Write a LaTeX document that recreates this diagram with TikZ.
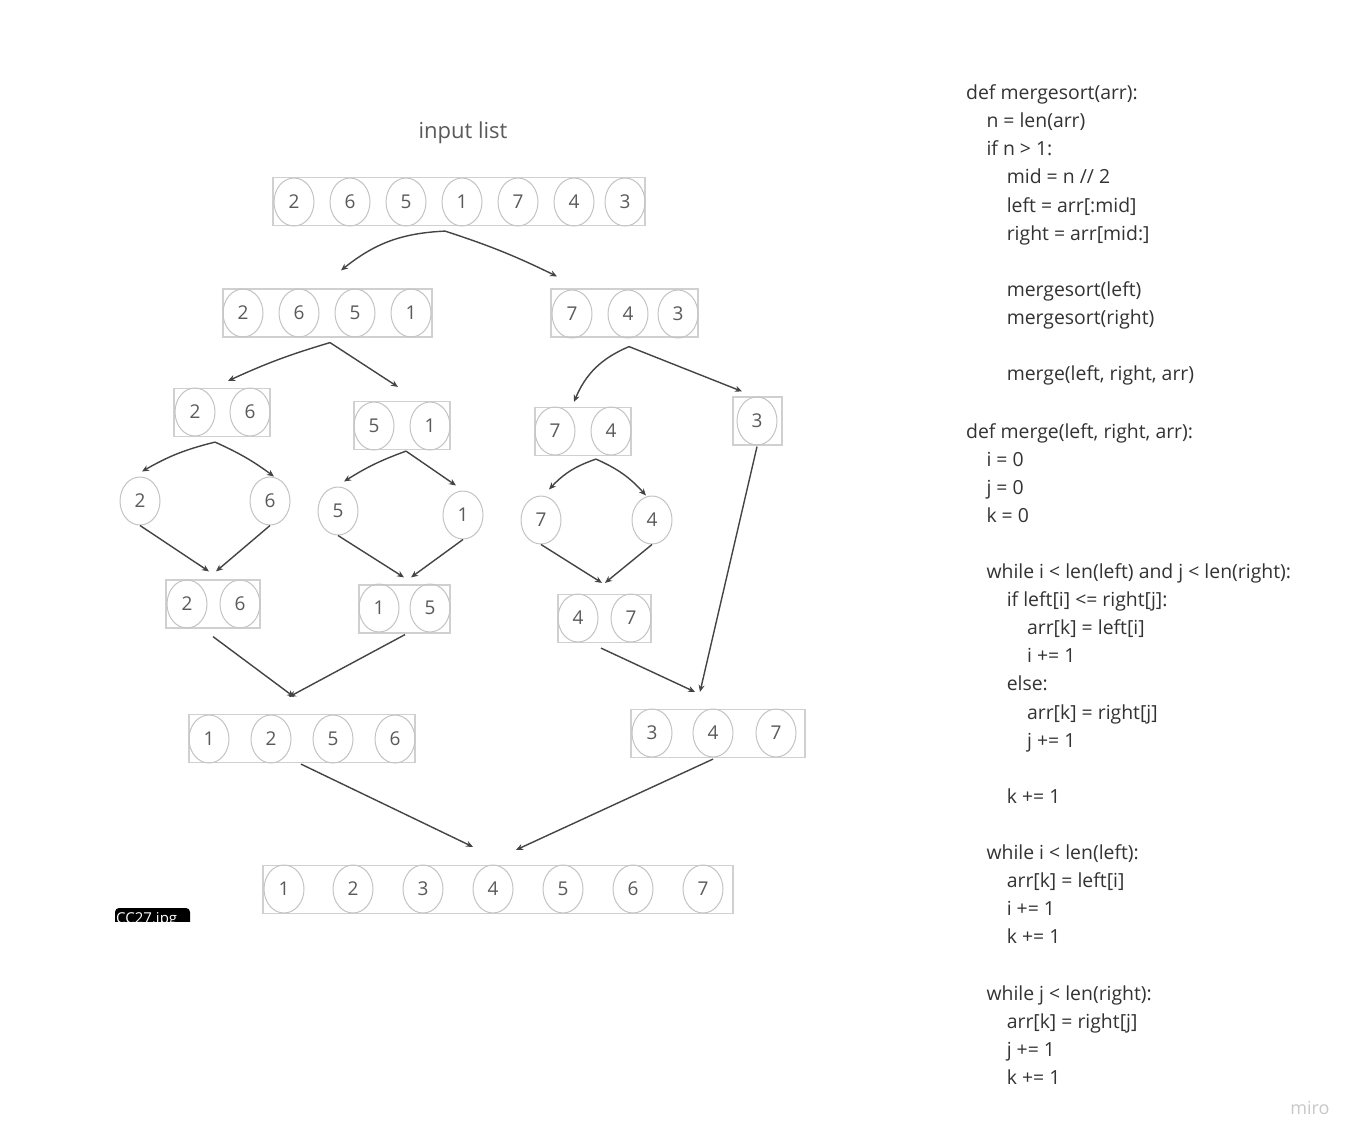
\documentclass[tikz,border=0pt]{standalone}
\usepackage{fontspec}
\setmainfont{Open Sans}
\usetikzlibrary{arrows.meta,shapes.geometric}

\definecolor{boxline}{HTML}{D0D0D0}
\definecolor{cellline}{HTML}{C4C4C4}
\definecolor{arrowline}{HTML}{444444}
\definecolor{numtext}{HTML}{5A5A5A}
\definecolor{codetext}{HTML}{333333}
\definecolor{brandgray}{HTML}{C8C8C8}

\tikzset{
  listbox/.style={draw=boxline, line width=1.2pt, minimum width=#1, minimum height=48pt, inner sep=0pt},
  cell/.style={ellipse, draw=cellline, line width=1pt, minimum width=40pt, minimum height=48pt, inner sep=0pt, text=numtext, font=\fontsize{19}{19}\selectfont},
  arr/.style={draw=arrowline, line width=1.4pt, -{Stealth[length=7pt,width=6pt]}},
  codeline/.style={anchor=base west, inner sep=0pt, text=codetext, font=\fontsize{19.4}{22}\selectfont},
}

\begin{document}
\begin{tikzpicture}[x=1pt,y=-1pt]
	\useasboundingbox (0,0) rectangle (1363,1146);
	\fill[white] (0,0) rectangle (1363,1146);
	
	% title
	\node[text=numtext, font=\fontsize{22}{22}\selectfont] (title) at (463,133) {input list};
	
	% level 0
	\node[listbox=372pt] (L0) at (459,201.5) {};
	\foreach \cx/\v [count=\i] in {294/2,350/6,406/5,462/1,518/7,574/4,625/3}
		\node[cell] (L0-\i) at (\cx,202) {\v};
	
	% level 1
	\node[listbox=209pt] (L1a) at (327.5,313) {};
	\foreach \cx/\v [count=\i] in {243/2,299/6,355/5,411/1}
		\node[cell] (L1a-\i) at (\cx,313) {\v};
	\node[listbox=147pt] (L1b) at (624.5,313) {};
	\foreach \cx/\v [count=\i] in {572/7,628/4,678/3}
		\node[cell] (L1b-\i) at (\cx,314) {\v};
	
	% level 2
	\node[listbox=96pt] (L2a) at (222,412.5) {};
	\foreach \cx/\v [count=\i] in {195/2,250/6}
		\node[cell] (L2a-\i) at (\cx,412) {\v};
	\node[listbox=96pt] (L2b) at (402,425.5) {};
	\foreach \cx/\v [count=\i] in {374/5,430/1}
		\node[cell] (L2b-\i) at (\cx,426) {\v};
	\node[listbox=96pt] (L2c) at (583,431.5) {};
	\foreach \cx/\v [count=\i] in {555/7,611/4}
		\node[cell] (L2c-\i) at (\cx,431) {\v};
	\node[listbox=49pt] (L2d) at (757.5,421) {};
	\node[cell] (L2d-1) at (757,421) {3};
	
	% level 3, single values
	\node[cell] (S2) at (140,501) {2};
	\node[cell] (S6) at (270,501) {6};
	\node[cell] (S5) at (338,511) {5};
	\node[cell] (S1) at (463,515) {1};
	\node[cell] (S7) at (541,520) {7};
	\node[cell] (S4) at (652,520) {4};
	
	% level 4
	\node[listbox=94pt] (L4a) at (213,604) {};
	\foreach \cx/\v [count=\i] in {187/2,240/6}
		\node[cell] (L4a-\i) at (\cx,604) {\v};
	\node[listbox=91pt] (L4b) at (404.5,609) {};
	\foreach \cx/\v [count=\i] in {379/1,430/5}
		\node[cell] (L4b-\i) at (\cx,608) {\v};
	\node[listbox=93pt] (L4c) at (604.5,618.5) {};
	\foreach \cx/\v [count=\i] in {578/4,631/7}
		\node[cell] (L4c-\i) at (\cx,618) {\v};
	
	% level 5
	\node[listbox=226pt] (L5a) at (302,738.5) {};
	\foreach \cx/\v [count=\i] in {209/1,271/2,333/5,395/6}
		\node[cell] (L5a-\i) at (\cx,739) {\v};
	\node[listbox=174pt] (L5b) at (718,733.5) {};
	\foreach \cx/\v [count=\i] in {652/3,713/4,776/7}
		\node[cell] (L5b-\i) at (\cx,733) {\v};
	
	% result
	\node[listbox=470pt] (L6) at (498,889.5) {};
	\foreach \cx/\v [count=\i] in {284/1,353/2,423/3,493/4,563/5,633/6,703/7}
		\node[cell] (L6-\i) at (\cx,889) {\v};
	
	% split arrows
	\draw[arr] ([shift={(-14,5)}]L0.south) to[bend right=18] ([shift={(13.5,-18)}]L1a.north);
	\draw[arr] ([shift={(-14,5)}]L0.south) to[bend left=4] ([shift={(-67.5,-12)}]L1b.north);
	\draw[arr] ([shift={(2.5,5)}]L1a.south) to[bend right=4] ([shift={(6,-7)}]L2a.north);
	\draw[arr] ([shift={(2.5,5)}]L1a.south) -- ([shift={(-4,-14)}]L2b.north);
	\draw[arr] ([shift={(4.5,9)}]L1b.south) to[bend right=22] ([shift={(-9,-5)}]L2c.north);
	\draw[arr] ([shift={(4.5,9)}]L1b.south) -- ([shift={(-15.5,-5)}]L2d.north);
	\draw[arr] ([shift={(-7,5)}]L2a.south) to[bend right=8] ([shift={(2,-5)}]S2.north);
	\draw[arr] ([shift={(-7,5)}]L2a.south) to[bend left=6] ([shift={(4,0)}]S6.north);
	\draw[arr] ([shift={(4,1)}]L2b.south) to[bend right=6] ([shift={(6,-5)}]S5.north);
	\draw[arr] ([shift={(4,1)}]L2b.south) -- ([shift={(-7,-5)}]S1.north);
	\draw[arr] ([shift={(13,3)}]L2c.south) to[bend right=14] ([shift={(8,-6)}]S7.north);
	\draw[arr] ([shift={(13,3)}]L2c.south) to[bend left=12] ([shift={(-6,0)}]S4.north);
	
	% merge arrows
	\draw[arr] (S2.south) -- ([shift={(-4,-8)}]L4a.north);
	\draw[arr] (S6.south) -- ([shift={(3,-8)}]L4a.north);
	\draw[arr] (S5.south) -- ([shift={(-0.5,-7)}]L4b.north);
	\draw[arr] (S1.south) -- ([shift={(6.5,-7)}]L4b.north);
	\draw[arr] (S7.south) -- ([shift={(-2.5,-11)}]L4c.north);
	\draw[arr] (S4.south) -- ([shift={(0.5,-11)}]L4c.north);
	\draw[arr] ([shift={(0,8)}]L4a.south) -- ([shift={(-8,-17)}]L5a.north);
	\draw[arr] ([shift={(0.5,1)}]L4b.south) -- ([shift={(-13,-17)}]L5a.north);
	\draw[arr] ([shift={(-3.5,5)}]L4c.south) -- ([shift={(-23,-17)}]L5b.north);
	\draw[arr] ([shift={(-0.5,1)}]L2d.south) -- ([shift={(-18,-17)}]L5b.north);
	\draw[arr] ([shift={(-1,1)}]L5a.south) -- ([shift={(-25,-18)}]L6.north);
	\draw[arr] ([shift={(-5,1)}]L5b.south) -- ([shift={(18,-15)}]L6.north);
	
	% file tab, cut off
	\begin{scope}
		\clip (110,900) rectangle (195,921);
		\fill[black, rounded corners=4pt] (115,908) rectangle (190,940);
		\node[text=white, font=\fontsize{15}{15}\selectfont, anchor=base west, inner sep=0pt] (tag) at (116,923) {CC27.jpg};
	\end{scope}
	
	% code
	\foreach \ind/\yy/\txt in {0/92/{def mergesort(arr):}, 1/120/{n = len(arr)}, 1/148/{if n > 1:},
		2/176/{mid = n // 2}, 2/205/{left = arr[:mid]}, 2/233/{right = arr[mid:]},
		2/289/{mergesort(left)}, 2/317/{mergesort(right)}, 2/373/{merge(left, right, arr)},
		0/431/{def merge(left, right, arr):}, 1/459/{i = 0}, 1/487/{j = 0}, 1/515/{k = 0},
		1/571/{while i < len(left) and j < len(right):}, 2/599/{if left[i] <= right[j]:},
		3/627/{arr[k] = left[i]}, 3/655/{i += 1}, 2/683/{else:}, 3/712/{arr[k] = right[j]},
		3/740/{j += 1}, 2/796/{k += 1}, 1/852/{while i < len(left):}, 2/880/{arr[k] = left[i]},
		2/908/{i += 1}, 2/936/{k += 1}, 1/993/{while j < len(right):}, 2/1021/{arr[k] = right[j]},
		2/1049/{j += 1}, 2/1077/{k += 1}}
		\node[codeline] (code-\yy) at (966+20.3*\ind,\yy+7) {\txt};
	
	\node[text=brandgray, font=\fontsize{18}{18}\selectfont] (brand) at (1310,1108) {miro};
\end{tikzpicture}
\end{document}
